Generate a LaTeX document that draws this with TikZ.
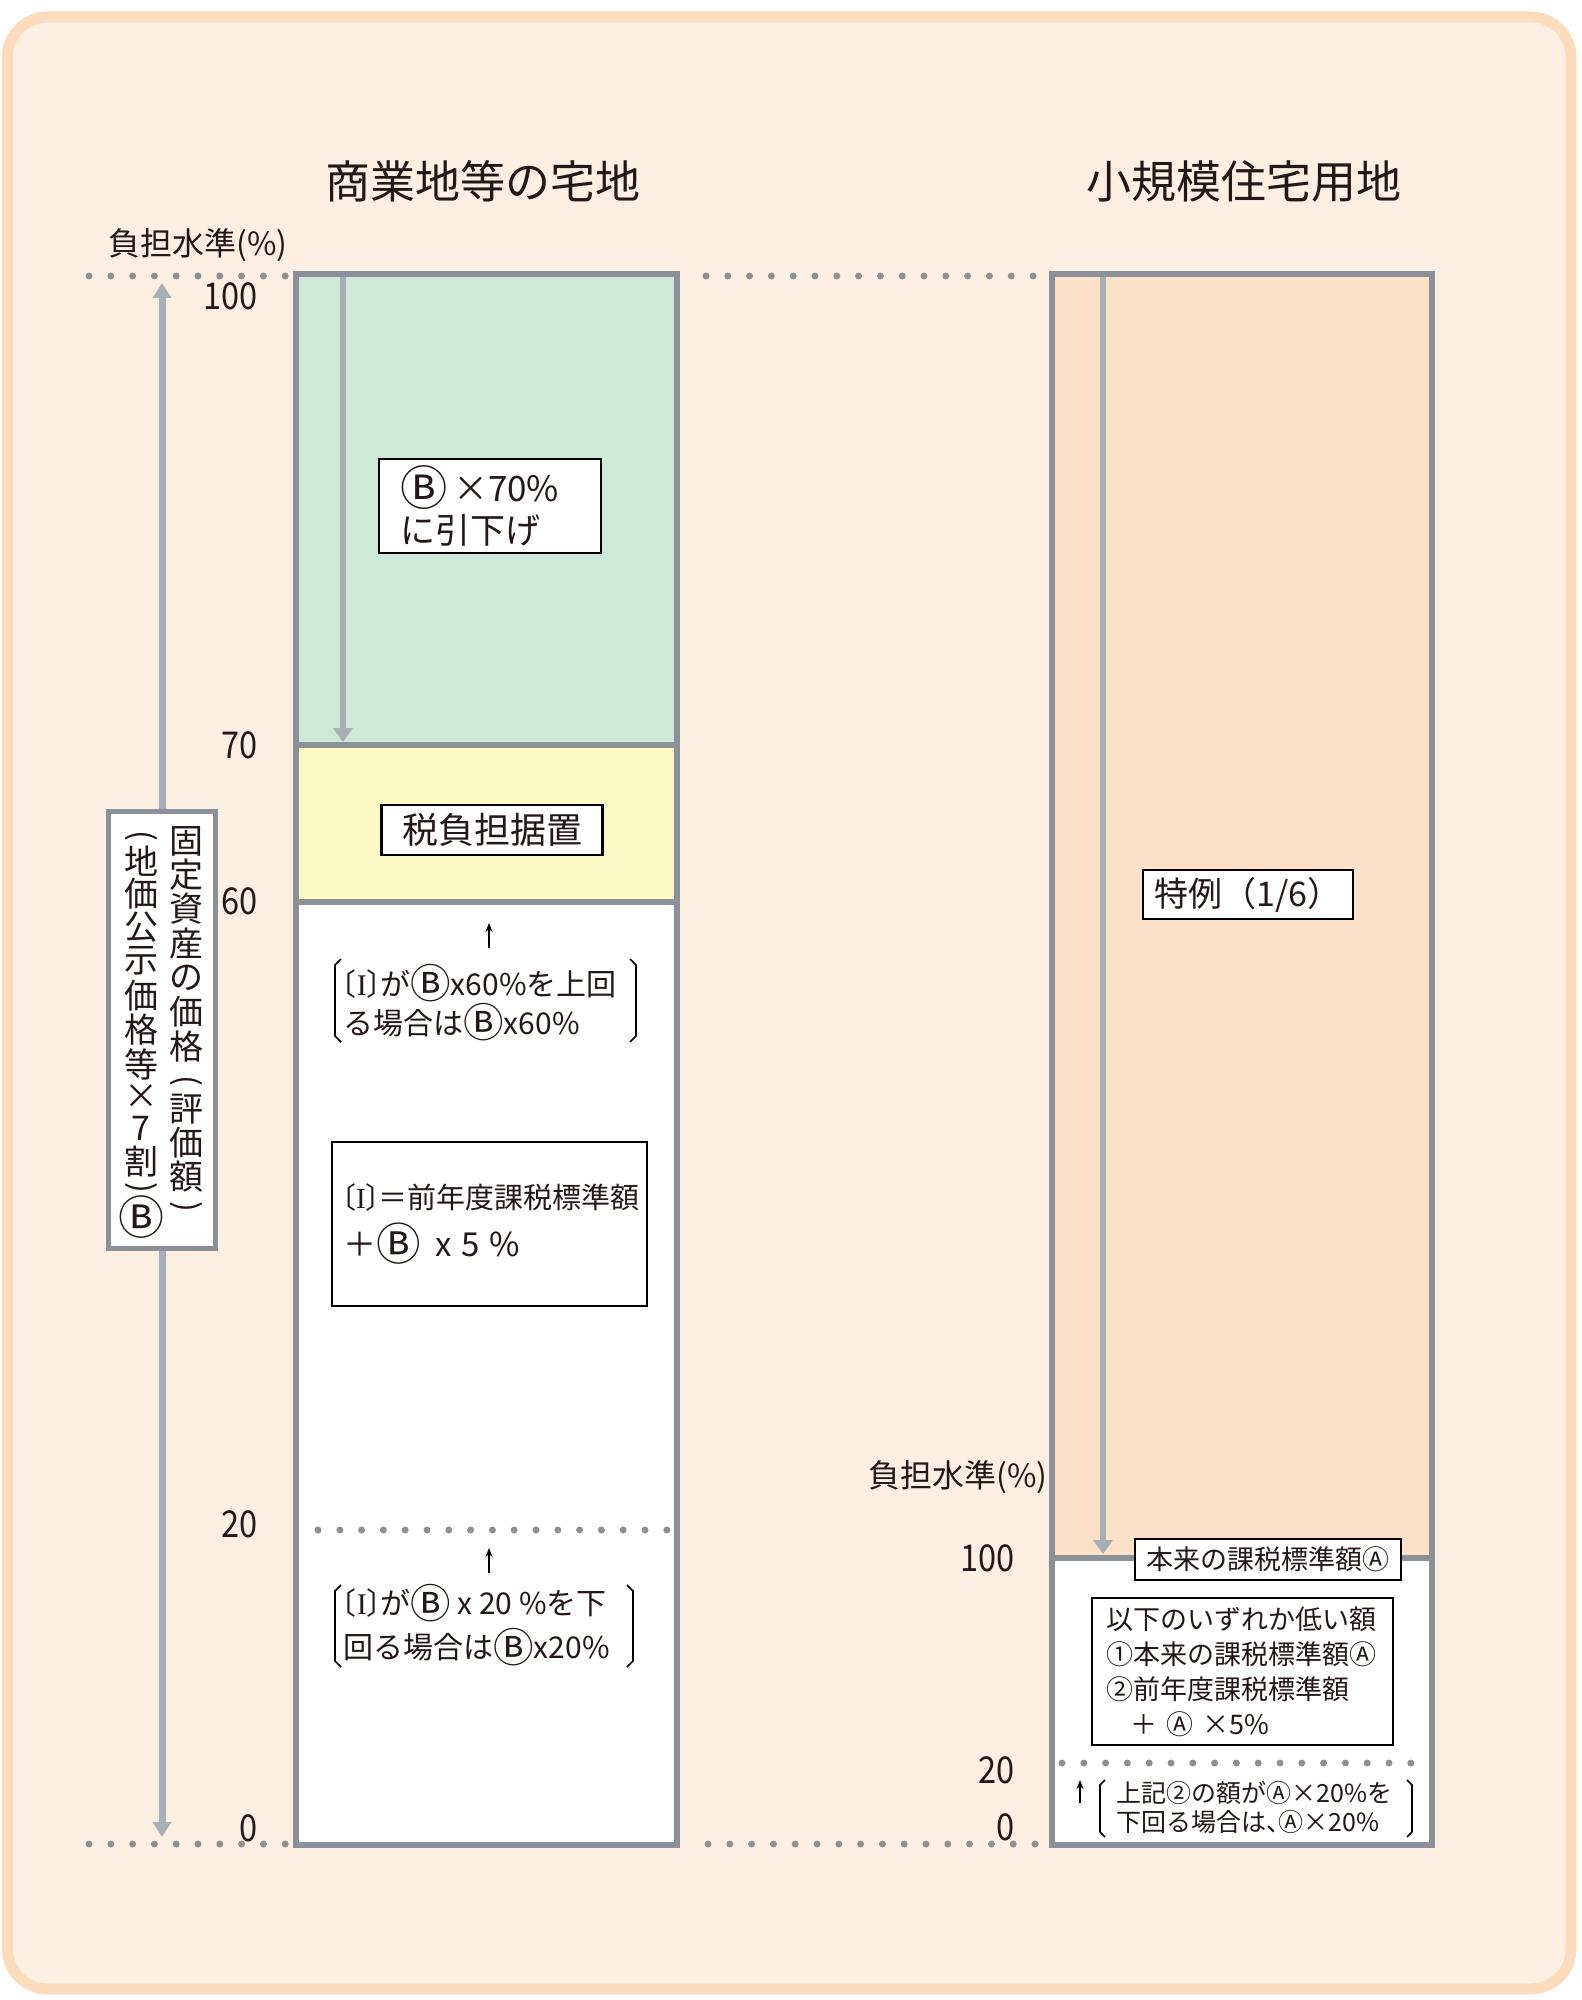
\documentclass[tikz,border=0pt]{standalone}
\usepackage{fontspec}
\usepackage{graphicx}
\setmainfont{Noto Sans CJK JP}
\newfontfamily\numf[FakeStretch=0.88]{Noto Sans CJK JP}
\newfontfamily\serf{Liberation Serif}
\usetikzlibrary{arrows.meta}
\definecolor{bgfill}{HTML}{FDF0E2}
\definecolor{bgline}{HTML}{FDDCBE}
\definecolor{colgreen}{HTML}{CDE8D7}
\definecolor{colyellow}{HTML}{FDF9C5}
\definecolor{colpeach}{HTML}{FDE0C8}
\definecolor{colgray}{HTML}{8A9199}
\definecolor{arrgray}{HTML}{A7AEB6}
\definecolor{dotgray}{HTML}{8C9196}
\definecolor{txt}{HTML}{231815}
\newcommand\Bc{\raisebox{-0.12em}{\scalebox{1.35}{Ⓑ}}}
\newcommand\KI{\makebox[0.45em][r]{〔}{\serf I}\makebox[0.45em][l]{〕}}
\begin{document}
\begin{tikzpicture}[x=0.5pt,y=-0.5pt,
  every node/.style={text=txt, inner sep=0pt},
  bx/.style={draw=black, line width=1.1pt, fill=white},
  num/.style={font=\numf\fontsize{18.5pt}{18.5pt}\selectfont, anchor=east},
  garrow/.style={draw=arrgray, line width=3pt, -{Triangle[width=9.5pt,length=7pt]}},
  dots/.style={draw=dotgray, line width=3.5pt, line cap=round, dash pattern=on 0pt off 10.9pt},
  colborder/.style={draw=colgray, line width=3pt},
  smallarrow/.style={draw=black, line width=0.8pt, -{Stealth[length=4.5pt,width=3.5pt]}},
  brk/.style={draw=black, line width=0.8pt},
  vch/.style={font=\fontsize{17pt}{17pt}\selectfont},
  vpar/.style={font=\fontsize{16pt}{16pt}\selectfont, rotate=-90}
]
\useasboundingbox (0,0) rectangle (1581,2000);
\fill[white] (0,0) rectangle (1581,2000);
\draw[bgline, fill=bgfill, line width=5.5pt, rounded corners=20pt] (7.5,17) rectangle (1571,1989);

% titles
\node[font=\fontsize{22.5pt}{22.5pt}\selectfont] (t1) at (483,181) {商業地等の宅地};
\node[font=\fontsize{22.5pt}{22.5pt}\selectfont] (t2) at (1244,181) {小規模住宅用地};
\node[font=\fontsize{16pt}{16pt}\selectfont] (ax1) at (198,245) {負担水準(\%)};
\node[font=\fontsize{16pt}{16pt}\selectfont] (ax2) at (958,1477) {負担水準(\%)};

% dotted guide lines
\draw[dots] (89,276) -- (287,276);
\draw[dots] (706,276) -- (1040,276);
\draw[dots] (89,1844) -- (287,1844);
\draw[dots] (708,1844) -- (1043,1844);

% left column
\fill[colgreen] (295.5,274.5) rectangle (677,745);
\fill[colyellow] (295.5,745) rectangle (677,902);
\fill[white] (295.5,902) rectangle (677,1844.5);
\draw[colborder] (295.5,745) -- (677,745);
\draw[colborder] (295.5,902) -- (677,902);
\draw[dots] (318,1530) -- (670,1530);
\draw[colborder] (295.5,274.5) rectangle (677,1844.5);
\coordinate (la1) at (343,277);
\coordinate (la2) at (343,742);
\draw[garrow] (la1) -- (la2);

% right column
\fill[colpeach] (1052,274.5) rectangle (1432,1558);
\fill[white] (1052,1558) rectangle (1432,1844.5);
\draw[colborder] (1052,1558) -- (1432,1558);
\draw[dots] (1062,1763) -- (1428,1763);
\draw[colborder] (1052,274.5) rectangle (1432,1844.5);
\coordinate (ra1) at (1103,277);
\coordinate (ra2) at (1103,1554);
\draw[garrow] (ra1) -- (ra2);

% outer double arrow
\coordinate (oa1) at (162,283);
\coordinate (oa2) at (162,1837);
\draw[draw=arrgray, line width=3.5pt, {Triangle[width=9pt,length=7.5pt]}-{Triangle[width=9pt,length=7.5pt]}] (oa1) -- (oa2);

% vertical box
\node[draw=colgray, line width=2.5pt, fill=white, minimum width=53.5pt, minimum height=218.5pt] (vbox) at (161.5,1029.5) {};
\foreach \g/\yy [count=\i] in {固/841,定/875,資/909,産/944,の/978,価/1012,格/1047,評/1109,価/1143,額/1177}
  \node[vch] (vr\i) at (186,\yy) {\g};
\node[vpar] (vrp1) at (186,1081) {(};
\node[vpar] (vrp2) at (186,1207) {)};
\foreach \g/\yy [count=\i] in {地/861,価/894,公/927,示/961,価/996,格/1030,等/1064,×/1097,7/1128,割/1162}
  \node[vch] (vl\i) at (141,\yy) {\g};
\node[vpar] (vlp1) at (141,836) {(};
\node[vpar] (vlp2) at (141,1188) {)};
\node[vch] (vlB) at (141,1217) {\Bc};

% left scale numbers
\node[num] (n100) at (258,296) {100};
\node[num] (n70) at (258,745) {70};
\node[num] (n60) at (258,901) {60};
\node[num] (n20) at (258,1524) {20};
\node[num] (n0) at (258,1828) {0};

% left column boxes and texts
\node[bx, minimum width=111pt, minimum height=47pt, text width=90pt, align=left,
      font=\fontsize{17.5pt}{21pt}\selectfont] (b70) at (490,506) {\Bc\,×70\%\\に引下げ};
\node[bx, minimum width=110.5pt, minimum height=25pt, font=\fontsize{18pt}{18pt}\selectfont] (zei) at (492,830) {税負担据置};

\node[anchor=west, align=left, font=\fontsize{15pt}{19.5pt}\selectfont] (ta) at (343,1003) {\KI が\Bc x60\%を上回\\る場合は\Bc x60\%};
\draw[brk] (341,959) -- (335,965) -- (335,1036) -- (341,1042);
\draw[brk] (630,959) -- (636,965) -- (636,1036) -- (630,1042);
\coordinate (sa1) at (489,948);
\coordinate (sa2) at (489,923);
\draw[smallarrow] (sa1) -- (sa2);

\node[bx, minimum width=157.5pt, minimum height=82pt, text width=146.5pt, align=left,
      font=\fontsize{14.5pt}{24pt}\selectfont] (bI) at (489.5,1224) {\KI ＝前年度課税標準額\\{\fontsize{16.5pt}{24pt}\selectfont ＋\Bc\, x 5 \%}};

\node[anchor=west, align=left, font=\fontsize{15pt}{22pt}\selectfont] (tb) at (343,1625) {\KI が\Bc{} x 20 \%を下\\回る場合は\Bc x20\%};
\draw[brk] (341,1585) -- (335,1591) -- (335,1661) -- (341,1667);
\draw[brk] (627,1585) -- (633,1591) -- (633,1661) -- (627,1667);
\coordinate (sb1) at (489,1573);
\coordinate (sb2) at (489,1548);
\draw[smallarrow] (sb1) -- (sb2);

% right column boxes and texts
\node[bx, minimum width=105pt, minimum height=24.5pt, font=\fontsize{17pt}{17pt}\selectfont] (tok) at (1248,894.5) {特例（1/6）};
\node[num] (r100) at (1015,1558) {100};
\node[num] (r20) at (1015,1770) {20};
\node[num] (r0) at (1015,1827) {0};
\node[bx, minimum width=133pt, minimum height=20.5pt, font=\fontsize{13.5pt}{13.5pt}\selectfont] (honrai) at (1268,1559.5) {本来の課税標準額Ⓐ};
\node[bx, minimum width=150.5pt, minimum height=73.5pt, text width=136pt, align=left,
      font=\fontsize{13.5pt}{17.5pt}\selectfont] (low) at (1242.5,1671.5)
      {以下のいずれか低い額\\①本来の課税標準額Ⓐ\\②前年度課税標準額\\\hspace*{0.9em}＋ Ⓐ ×5\%};
\node[anchor=west, align=left, font=\fontsize{12.5pt}{14.5pt}\selectfont] (tc) at (1116,1807.5)
      {上記②の額がⒶ×20\%を\\下回る場合は\makebox[0.5em][l]{、}Ⓐ×20\%};
\draw[brk] (1105,1780) -- (1100,1785) -- (1100,1832) -- (1105,1837);
\draw[brk] (1407,1780) -- (1412,1785) -- (1412,1832) -- (1407,1837);
\coordinate (sc1) at (1080,1803);
\coordinate (sc2) at (1080,1780);
\draw[smallarrow] (sc1) -- (sc2);
\end{tikzpicture}
\end{document}
